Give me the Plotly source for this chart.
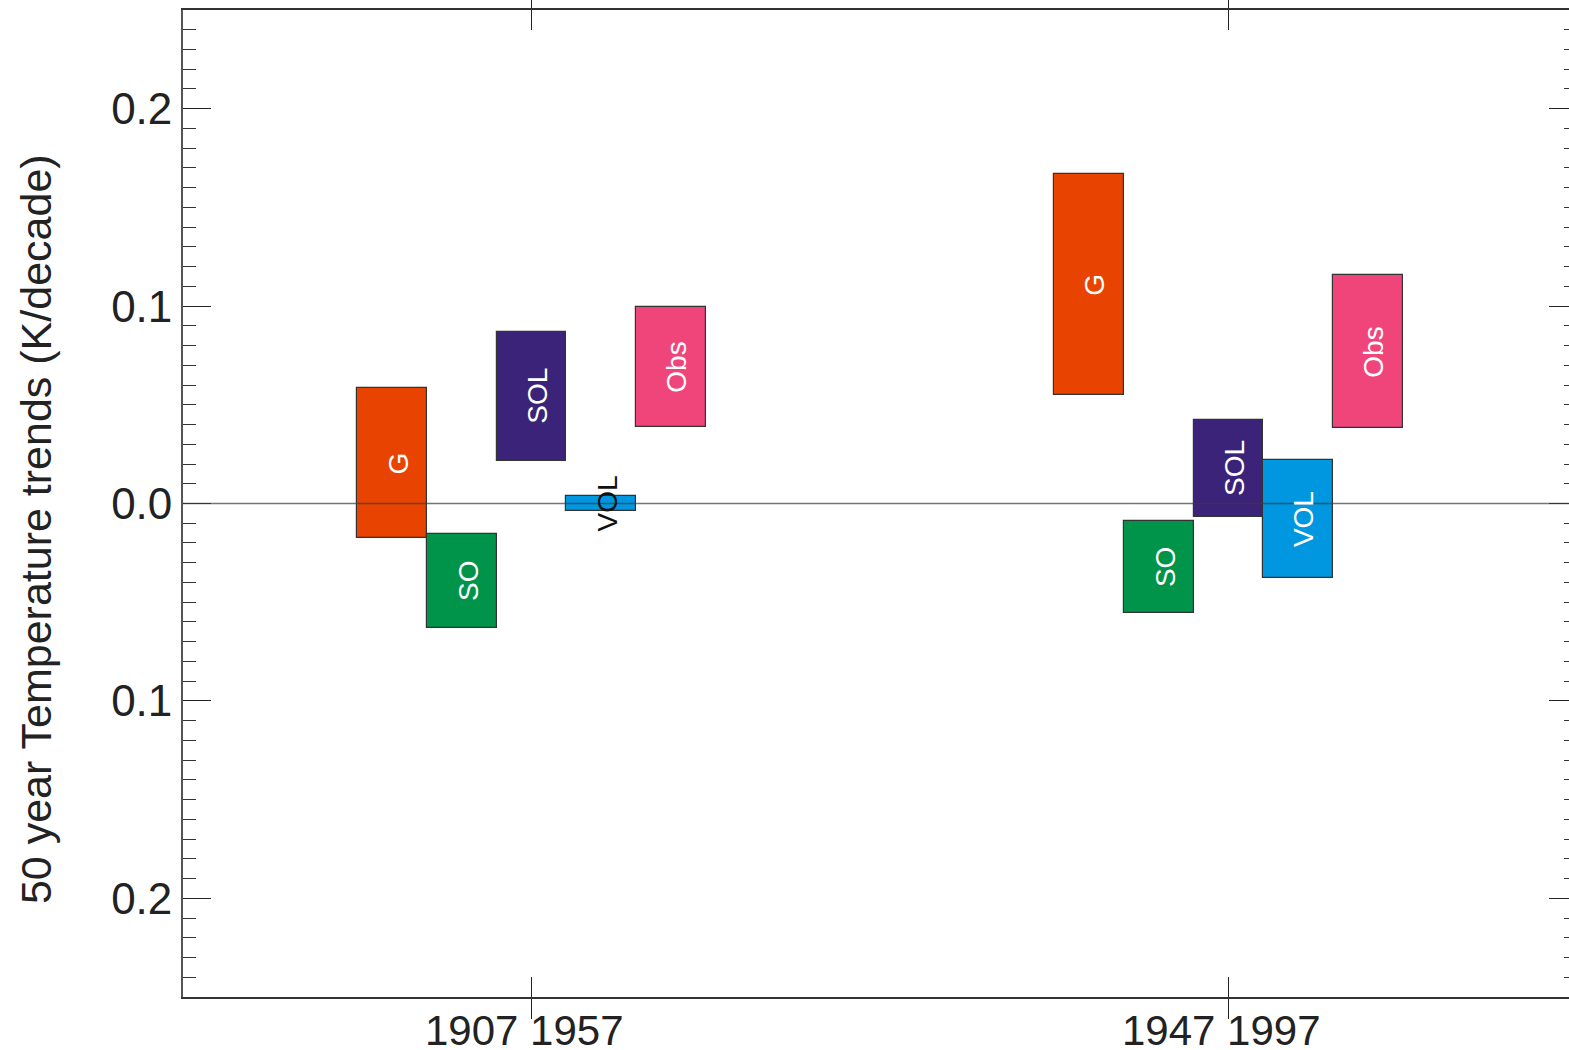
import plotly.graph_objects as go

# ---- data ----
group_labels = ["1907 1957", "1947 1997"]
group_pos = [1, 2]
series = ["G", "SO", "SOL", "VOL", "Obs"]
colors = ["#E84300", "#00934A", "#3A2378", "#0096E0", "#F0457A"]
G_low = [-0.0177, 0.0549]
G_high = [0.0583, 0.1668]
SO_low = [-0.0633, -0.0557]
SO_high = [-0.0153, -0.0089]
SOL_low = [0.0217, -0.0068]
SOL_high = [0.0870, 0.0423]
VOL_low = [-0.0037, -0.0377]
VOL_high = [0.0039, 0.0221]
Obs_low = [0.0389, 0.0380]
Obs_high = [0.0996, 0.1157]

ytick_vals = [-0.2, -0.1, 0.0, 0.1, 0.2]
ytick_text = ["0.2", "0.1", "0.0", "0.1", "0.2"]
ytitle = "50 year Temperature trends (K/decade)"

lows = [G_low, SO_low, SOL_low, VOL_low, Obs_low]
highs = [G_high, SO_high, SOL_high, VOL_high, Obs_high]

bar_w = 0.1
FONT = "Liberation Sans, Arial, sans-serif"

fig = go.Figure()
annotations = []
for i, (name, col, lo, hi) in enumerate(zip(series, colors, lows, highs)):
    off = (i - 2) * bar_w
    xs = [g + off for g in group_pos]
    fig.add_trace(go.Bar(
        x=xs, y=[h - l for h, l in zip(hi, lo)], base=lo, width=bar_w,
        marker=dict(color=col, line=dict(color="#333333", width=1.2)),
        name=name, showlegend=False, hoverinfo="skip",
    ))
    for x, l, h in zip(xs, lo, hi):
        small = (h - l) < 0.03
        annotations.append(dict(
            x=x, y=(l + h) / 2, xref="x", yref="y", text=name, showarrow=False,
            textangle=-90, xshift=6,
            font=dict(family=FONT, size=28, color="#111111" if small else "white"),
        ))

# invisible trace to carry the right-hand mirrored axis
fig.add_trace(go.Scatter(x=[group_pos[0]], y=[0], yaxis="y2", mode="markers",
                         marker=dict(opacity=0), showlegend=False, hoverinfo="skip"))

# x tick labels
for gx, gl in zip(group_pos, group_labels):
    annotations.append(dict(
        x=gx, y=0, xref="x", yref="paper", text=gl, showarrow=False,
        xanchor="center", yanchor="top", xshift=-7, yshift=-8,
        font=dict(family=FONT, size=42, color="#222222"),
    ))

annotations.append(dict(
    x=-0.1055, y=0.474, xref="paper", yref="paper", text=ytitle, showarrow=False,
    textangle=-90, xanchor="center", yanchor="middle",
    font=dict(family=FONT, size=43, color="#222222"),
))

fig.add_shape(type="line", xref="paper", yref="y", x0=0, x1=1, y0=0, y1=0,
              line=dict(color="rgba(60,60,60,0.7)", width=1.5), layer="above")

fig.update_layout(
    width=1577, height=1050,
    margin=dict(l=183, r=0, t=10, b=53, autoexpand=False),
    paper_bgcolor="white", plot_bgcolor="white",
    annotations=annotations,
    bargap=0, barmode="overlay",
    font=dict(family=FONT, color="#222222"),
    yaxis2=dict(
        overlaying="y", side="right", range=[-0.25, 0.25],
        tickvals=ytick_vals, showticklabels=False,
        ticks="inside", ticklen=28, tickwidth=1.2, tickcolor="#222",
        minor=dict(dtick=0.01, ticks="inside", ticklen=13, tickwidth=1.2, tickcolor="#333", showgrid=False),
        showline=True, linecolor="#333", linewidth=1.5,
        showgrid=False, zeroline=False,
    ),
)
fig.update_xaxes(
    range=[0.5, 2.5], tickvals=group_pos, showticklabels=False,
    ticks="inside", ticklen=20, tickwidth=1.2, tickcolor="#222",
    showline=True, linecolor="#333", linewidth=1.5, mirror="allticks",
    showgrid=False, zeroline=False, automargin=False,
)
fig.update_yaxes(
    selector=dict(overlaying=None),
    range=[-0.25, 0.25], tickvals=ytick_vals, ticktext=ytick_text,
    ticks="inside", ticklen=28, tickwidth=1.2, tickcolor="#222",
    minor=dict(dtick=0.01, ticks="inside", ticklen=13, tickwidth=1.2, tickcolor="#333", showgrid=False),
    showline=True, linecolor="#555", linewidth=1.8,
    showgrid=False, zeroline=False, automargin=False,
    tickfont=dict(family=FONT, size=44, color="#222"),
)

fig.write_html("out.html", config={"displayModeBar": False},
               post_script="document.body.style.margin='0';document.body.style.overflow='hidden';")
